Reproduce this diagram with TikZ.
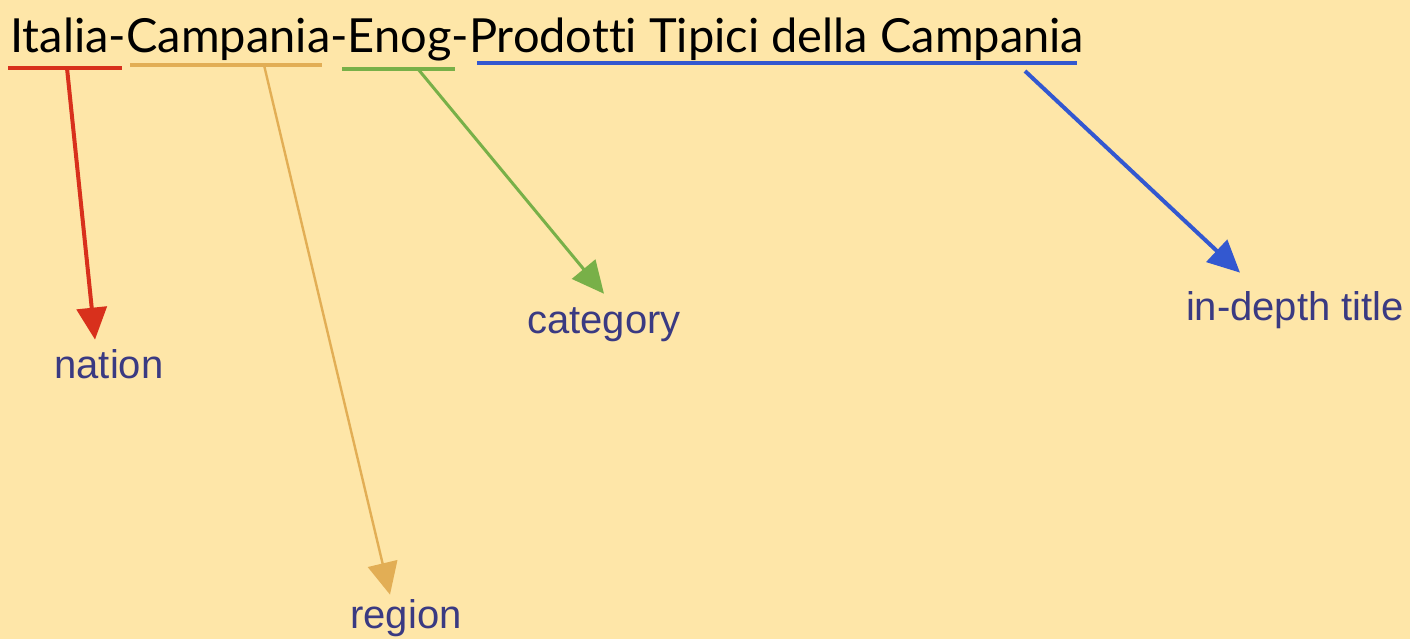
\documentclass[tikz,border=0pt]{standalone}
\usepackage{fontspec}
\setmainfont{Lato}[Ligatures={NoCommon}]
\newfontfamily\labelfont{Liberation Sans}
\usetikzlibrary{arrows.meta}
\definecolor{paper}{HTML}{FEE6A8}
\definecolor{natred}{HTML}{D8301C}
\definecolor{regtan}{HTML}{E2AE55}
\definecolor{catgreen}{HTML}{78B048}
\definecolor{titblue}{HTML}{3358D0}
\definecolor{labink}{HTML}{3A3A82}

\begin{document}
\begin{tikzpicture}[x=0.5pt,y=-0.5pt]
	\tikzstyle{label node} = [font=\labelfont\fontsize{20}{24}\selectfont, text=labink, inner sep=0, anchor=base]
	\tikzstyle{part arrow} = [-{Triangle[length=16pt,width=15pt]}]
	\fill[paper] (0,0) rectangle (1410,639);
	\useasboundingbox (0,0) rectangle (1410,639);
	\node[anchor=base west, inner sep=0, font=\fontsize{23.5}{28}\selectfont] (key) at (10,52) {Italia-Campania-Enog-Prodotti Tipici della Campania};
	% underlines under the parts of the key
	\coordinate (natA) at (8,68);    \coordinate (natB) at (122,68);  \coordinate (natRoot) at (67,68);
	\coordinate (regA) at (130,65);  \coordinate (regB) at (322,65);  \coordinate (regRoot) at (264,65);
	\coordinate (catA) at (342,69);  \coordinate (catB) at (455,69);  \coordinate (catRoot) at (418,69);
	\coordinate (titA) at (477,63);  \coordinate (titB) at (1077,63); \coordinate (titRoot) at (1025,71);
	\draw[natred, line width=2pt] (natA) -- (natB);
	\draw[regtan, line width=1.6pt] (regA) -- (regB);
	\draw[catgreen, line width=2pt] (catA) -- (catB);
	\draw[titblue, line width=2pt] (titA) -- (titB);
	% labels
	\node[label node] (nation) at (109,378) {nation};
	\node[label node] (region) at (406,628) {region};
	\node[label node] (category) at (604,333) {category};
	\node[label node] (title) at (1295,320) {in-depth title};
	% arrows
	\path[part arrow, natred, line width=2pt] (natRoot) edge ([xshift=-7pt,yshift=4.5pt]nation.north);
	\path[part arrow, regtan, line width=1.2pt] (regRoot) edge ([xshift=-8pt,yshift=2pt]region.north);
	\path[part arrow, catgreen, line width=1.5pt] (catRoot) edge ([yshift=6.5pt]category.north);
	\path[part arrow, titblue, line width=2pt] (titRoot) edge ([xshift=-27.5pt,yshift=9pt]title.north);
\end{tikzpicture}
\end{document}
